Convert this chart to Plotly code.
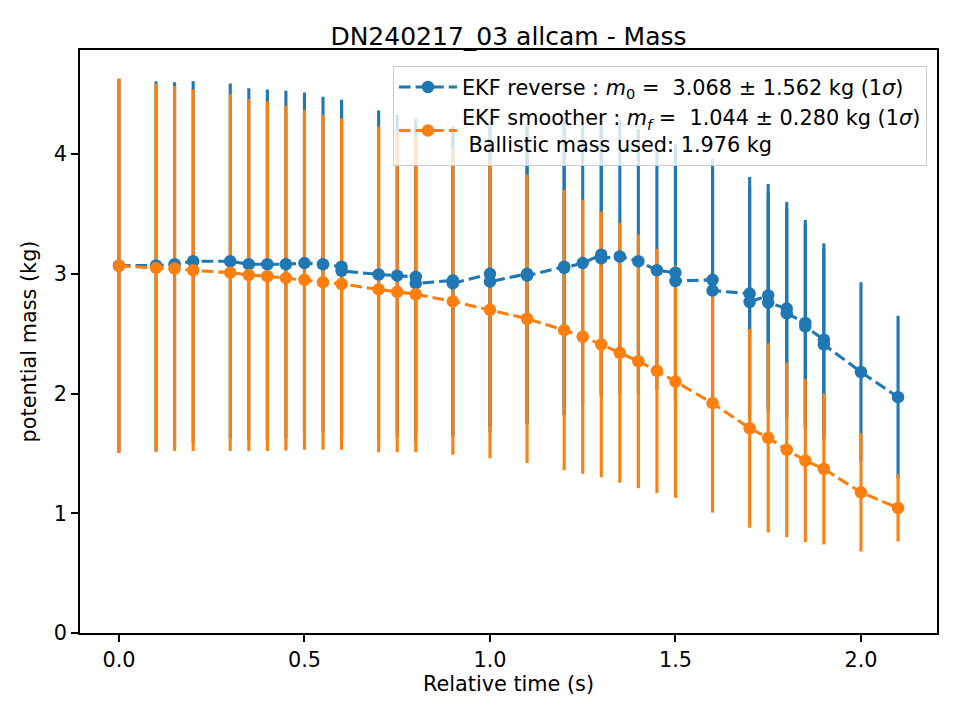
import plotly.graph_objects as go

# EKF reverse (blue) - several cameras give duplicate times
t_rev = [0.0, 0.1, 0.15, 0.2, 0.3, 0.35, 0.4, 0.45, 0.5, 0.55, 0.6, 0.6, 0.7, 0.75,
         0.8, 0.8, 0.9, 0.9, 1.0, 1.0, 1.1, 1.1, 1.2, 1.2, 1.25, 1.3, 1.3, 1.35, 1.4,
         1.45, 1.5, 1.5, 1.6, 1.6, 1.7, 1.7, 1.75, 1.75, 1.8, 1.8, 1.85, 1.85, 1.9, 1.9,
         2.0, 2.1]
m_rev = [3.068, 3.07, 3.08, 3.105, 3.105, 3.08, 3.08, 3.08, 3.09, 3.08, 3.06, 3.025, 2.995, 2.985,
         2.975, 2.92, 2.945, 2.92, 3.00, 2.935, 3.00, 2.985, 3.06, 3.05, 3.09, 3.16, 3.13, 3.145, 3.105,
         3.03, 3.01, 2.94, 2.95, 2.86, 2.835, 2.765, 2.82, 2.76, 2.71, 2.67, 2.59, 2.56, 2.45, 2.41,
         2.18, 1.97]
s_rev = [1.562, 1.54, 1.52, 1.505, 1.485, 1.47, 1.46, 1.45, 1.425, 1.40, 1.395, 1.39, 1.37, 1.345,
         1.325, 1.32, 1.285, 1.28, 1.27, 1.26, 1.25, 1.24, 1.24, 1.23, 1.18, 1.16, 1.15, 1.145, 1.105,
         1.00, 1.07, 1.06, 1.01, 1.00, 0.975, 0.97, 0.93, 0.92, 0.89, 0.88, 0.86, 0.85, 0.805, 0.80,
         0.75, 0.68]

# EKF smoother (orange)
t_smo = [0.0, 0.1, 0.15, 0.2, 0.3, 0.35, 0.4, 0.45, 0.5, 0.55, 0.6, 0.7, 0.75, 0.8, 0.9, 1.0,
         1.1, 1.2, 1.25, 1.3, 1.35, 1.4, 1.45, 1.5, 1.6, 1.7, 1.75, 1.8, 1.85, 1.9, 2.0, 2.1]
m_smo = [3.068, 3.05, 3.045, 3.03, 3.01, 2.99, 2.98, 2.965, 2.95, 2.93, 2.915, 2.87, 2.85, 2.83, 2.77, 2.70,
         2.625, 2.53, 2.475, 2.41, 2.34, 2.27, 2.19, 2.10, 1.92, 1.71, 1.63, 1.53, 1.44, 1.37, 1.175, 1.044]
s_smo = [1.562, 1.54, 1.525, 1.51, 1.49, 1.47, 1.46, 1.44, 1.42, 1.40, 1.385, 1.36, 1.34, 1.32, 1.28, 1.24,
         1.205, 1.17, 1.145, 1.11, 1.085, 1.06, 1.02, 0.97, 0.915, 0.83, 0.79, 0.73, 0.68, 0.63, 0.495, 0.280]

label_rev = "EKF reverse : <i>m</i><sub>0</sub> =\u00a0 3.068 ± 1.562 kg (1<i>σ</i>)"
label_smo = ("EKF smoother : <i>m</i><sub><i>f</i></sub> =\u00a0 1.044 ± 0.280 kg (1<i>σ</i>)"
             "<br>\u00a0Ballistic mass used: 1.976 kg")

x_ticks = [0.0, 0.5, 1.0, 1.5, 2.0]
y_ticks = [0, 1, 2, 3, 4]

BLUE = "#1f77b4"
ORANGE = "#ff7f0e"
FS = 20.8
LW = 3.1
DASH = "11.6px,5px"

fig = go.Figure()
# error bars first (matplotlib zorder 2), then data lines/markers (zorder 2.1)
for t, m, s, c in [(t_rev, m_rev, s_rev, BLUE), (t_smo, m_smo, s_smo, ORANGE)]:
    fig.add_trace(go.Scatter(
        x=t, y=m, mode="markers",
        marker=dict(size=1, color="rgba(0,0,0,0)"),
        error_y=dict(type="data", array=s, visible=True, color=c, thickness=LW, width=0),
        showlegend=False, hoverinfo="skip"))
for t, m, c, name in [(t_rev, m_rev, BLUE, label_rev), (t_smo, m_smo, ORANGE, label_smo)]:
    fig.add_trace(go.Scatter(
        x=t, y=m, mode="lines+markers", name=name,
        line=dict(color=c, width=LW, dash=DASH),
        marker=dict(size=12.5, color=c, line=dict(width=0))))

axis_common = dict(
    showline=True, mirror=True, linecolor="black", linewidth=1.6,
    ticks="outside", ticklen=7, tickwidth=1.6, tickcolor="black",
    showgrid=False, zeroline=False,
    tickfont=dict(size=FS, color="black", family="DejaVu Sans"),
)
fig.update_xaxes(range=[-0.105, 2.205], tickvals=x_ticks,
                 ticktext=[f"{v:.1f}" for v in x_ticks],
                 title=dict(text="Relative time (s)", standoff=5,
                            font=dict(size=FS, color="black", family="DejaVu Sans")),
                 **axis_common)
fig.update_yaxes(range=[0, 4.87], tickvals=y_ticks,
                 ticktext=[str(v) for v in y_ticks],
                 title=dict(text="potential mass (kg)", standoff=12,
                            font=dict(size=FS, color="black", family="DejaVu Sans")),
                 **axis_common)

fig.update_layout(
    width=960, height=720, autosize=False,
    margin=dict(l=80, r=23, t=50, b=87),
    plot_bgcolor="white", paper_bgcolor="white",
    font=dict(family="DejaVu Sans", size=FS, color="black"),
    title=dict(text="DN240217_03 allcam - Mass", x=0.5, xref="paper",
               y=1 - 36 / 720, yanchor="middle",
               font=dict(size=25, color="black", family="DejaVu Sans")),
    legend=dict(x=0.9883, y=0.9726, xanchor="right", yanchor="top",
                bgcolor="rgba(255,255,255,0.8)", bordercolor="#cccccc", borderwidth=1,
                font=dict(size=FS, color="black", family="DejaVu Sans"),
                itemwidth=58, tracegroupgap=0),
    showlegend=True,
)

fig.write_html("out.html")
